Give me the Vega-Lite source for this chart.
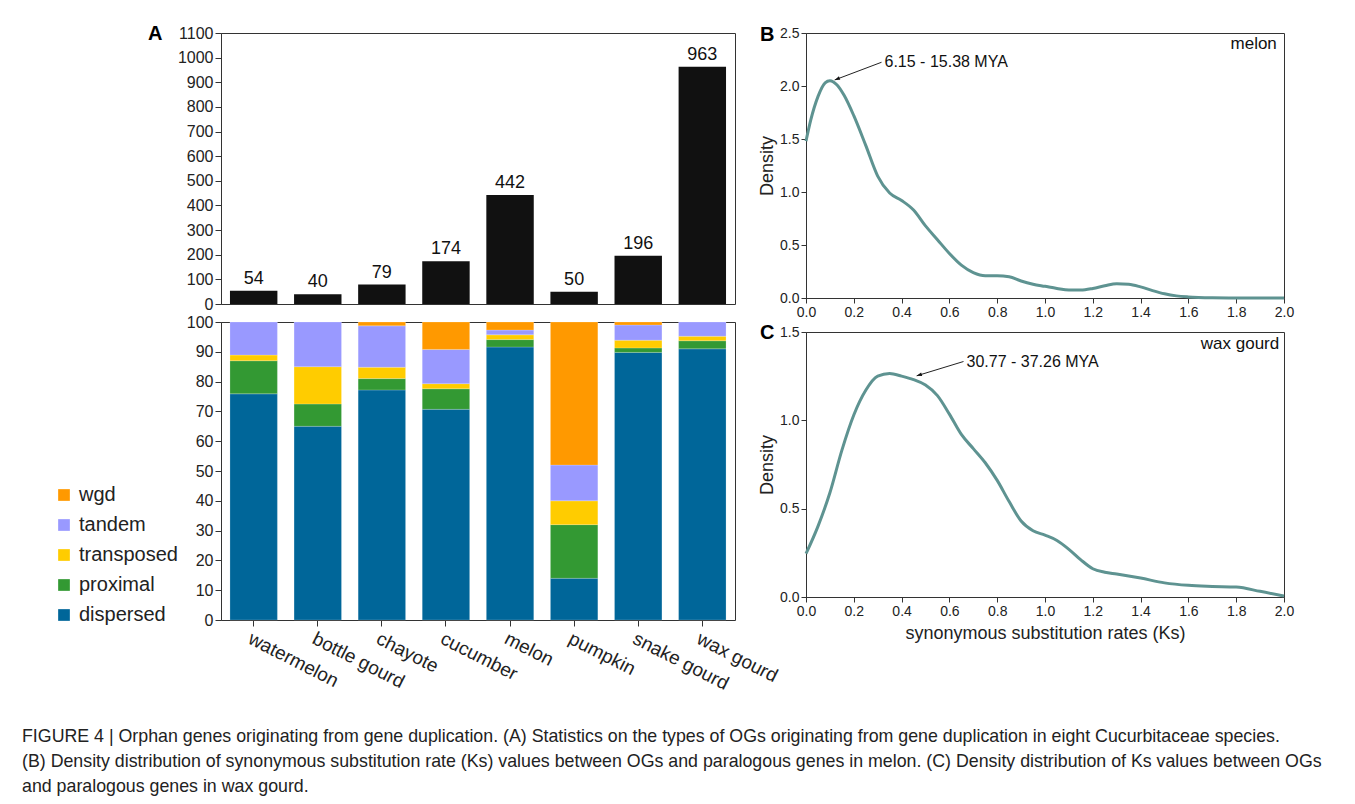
{
  "$schema": "https://vega.github.io/schema/vega-lite/v6.json",
  "padding": {"left": 22, "top": 23, "right": 5, "bottom": 5},
  "background": "white",
  "config": {
    "font": "Liberation Sans",
    "view": {"stroke": "#333", "strokeWidth": 1},
    "axis": {"grid": false, "labelFont": "Liberation Sans", "titleFont": "Liberation Sans", "labelColor": "#222", "tickColor": "#333", "domainColor": "#333", "titleFontWeight": "normal", "titleColor": "#222", "labelFlush": false, "labelOverlap": false},
    "legend": {"labelFont": "Liberation Sans", "labelColor": "#222"}
  },
  "datasets": {
    "totals": [
      {"species": "watermelon", "n": 54},
      {"species": "bottle gourd", "n": 40},
      {"species": "chayote", "n": 79},
      {"species": "cucumber", "n": 174},
      {"species": "melon", "n": 442},
      {"species": "pumpkin", "n": 50},
      {"species": "snake gourd", "n": 196},
      {"species": "wax gourd", "n": 963}
    ],
    "types": [
      {"species": "watermelon", "type": "dispersed", "ord": 1, "pct": 75.9},
      {"species": "watermelon", "type": "proximal", "ord": 2, "pct": 11.1},
      {"species": "watermelon", "type": "transposed", "ord": 3, "pct": 1.9},
      {"species": "watermelon", "type": "tandem", "ord": 4, "pct": 11.1},
      {"species": "bottle gourd", "type": "dispersed", "ord": 1, "pct": 65.0},
      {"species": "bottle gourd", "type": "proximal", "ord": 2, "pct": 7.5},
      {"species": "bottle gourd", "type": "transposed", "ord": 3, "pct": 12.5},
      {"species": "bottle gourd", "type": "tandem", "ord": 4, "pct": 15.0},
      {"species": "chayote", "type": "dispersed", "ord": 1, "pct": 77.2},
      {"species": "chayote", "type": "proximal", "ord": 2, "pct": 3.8},
      {"species": "chayote", "type": "transposed", "ord": 3, "pct": 3.8},
      {"species": "chayote", "type": "tandem", "ord": 4, "pct": 13.9},
      {"species": "chayote", "type": "wgd", "ord": 5, "pct": 1.3},
      {"species": "cucumber", "type": "dispersed", "ord": 1, "pct": 70.7},
      {"species": "cucumber", "type": "proximal", "ord": 2, "pct": 6.9},
      {"species": "cucumber", "type": "transposed", "ord": 3, "pct": 1.7},
      {"species": "cucumber", "type": "tandem", "ord": 4, "pct": 11.5},
      {"species": "cucumber", "type": "wgd", "ord": 5, "pct": 9.2},
      {"species": "melon", "type": "dispersed", "ord": 1, "pct": 91.6},
      {"species": "melon", "type": "proximal", "ord": 2, "pct": 2.5},
      {"species": "melon", "type": "transposed", "ord": 3, "pct": 1.6},
      {"species": "melon", "type": "tandem", "ord": 4, "pct": 1.6},
      {"species": "melon", "type": "wgd", "ord": 5, "pct": 2.7},
      {"species": "pumpkin", "type": "dispersed", "ord": 1, "pct": 14.0},
      {"species": "pumpkin", "type": "proximal", "ord": 2, "pct": 18.0},
      {"species": "pumpkin", "type": "transposed", "ord": 3, "pct": 8.0},
      {"species": "pumpkin", "type": "tandem", "ord": 4, "pct": 12.0},
      {"species": "pumpkin", "type": "wgd", "ord": 5, "pct": 48.0},
      {"species": "snake gourd", "type": "dispersed", "ord": 1, "pct": 89.8},
      {"species": "snake gourd", "type": "proximal", "ord": 2, "pct": 1.5},
      {"species": "snake gourd", "type": "transposed", "ord": 3, "pct": 2.6},
      {"species": "snake gourd", "type": "tandem", "ord": 4, "pct": 5.1},
      {"species": "snake gourd", "type": "wgd", "ord": 5, "pct": 1.0},
      {"species": "wax gourd", "type": "dispersed", "ord": 1, "pct": 91.0},
      {"species": "wax gourd", "type": "proximal", "ord": 2, "pct": 2.7},
      {"species": "wax gourd", "type": "transposed", "ord": 3, "pct": 1.5},
      {"species": "wax gourd", "type": "tandem", "ord": 4, "pct": 4.8}
    ],
    "melon": [
      {"ks": 0.00, "density": 1.48}, {"ks": 0.02, "density": 1.68}, {"ks": 0.05, "density": 1.90},
      {"ks": 0.08, "density": 2.03}, {"ks": 0.10, "density": 2.05}, {"ks": 0.13, "density": 2.01},
      {"ks": 0.16, "density": 1.91}, {"ks": 0.20, "density": 1.72}, {"ks": 0.25, "density": 1.44},
      {"ks": 0.30, "density": 1.15}, {"ks": 0.35, "density": 0.99}, {"ks": 0.40, "density": 0.92},
      {"ks": 0.45, "density": 0.83}, {"ks": 0.50, "density": 0.68}, {"ks": 0.55, "density": 0.55},
      {"ks": 0.60, "density": 0.42}, {"ks": 0.65, "density": 0.31}, {"ks": 0.70, "density": 0.24},
      {"ks": 0.75, "density": 0.21}, {"ks": 0.80, "density": 0.21}, {"ks": 0.85, "density": 0.20},
      {"ks": 0.90, "density": 0.16}, {"ks": 0.95, "density": 0.13}, {"ks": 1.00, "density": 0.11},
      {"ks": 1.05, "density": 0.09}, {"ks": 1.10, "density": 0.075}, {"ks": 1.15, "density": 0.075},
      {"ks": 1.20, "density": 0.09}, {"ks": 1.25, "density": 0.115}, {"ks": 1.30, "density": 0.135},
      {"ks": 1.35, "density": 0.13}, {"ks": 1.40, "density": 0.105}, {"ks": 1.45, "density": 0.07},
      {"ks": 1.50, "density": 0.04}, {"ks": 1.55, "density": 0.02}, {"ks": 1.60, "density": 0.01},
      {"ks": 1.70, "density": 0.002}, {"ks": 1.80, "density": 0.0}, {"ks": 2.00, "density": 0.0}
    ],
    "wax": [
      {"ks": 0.00, "density": 0.245}, {"ks": 0.05, "density": 0.40}, {"ks": 0.10, "density": 0.59},
      {"ks": 0.15, "density": 0.83}, {"ks": 0.20, "density": 1.03}, {"ks": 0.25, "density": 1.17},
      {"ks": 0.30, "density": 1.25}, {"ks": 0.35, "density": 1.265}, {"ks": 0.40, "density": 1.25},
      {"ks": 0.45, "density": 1.23}, {"ks": 0.50, "density": 1.20}, {"ks": 0.55, "density": 1.14},
      {"ks": 0.60, "density": 1.035}, {"ks": 0.65, "density": 0.92}, {"ks": 0.70, "density": 0.84},
      {"ks": 0.75, "density": 0.76}, {"ks": 0.80, "density": 0.66}, {"ks": 0.85, "density": 0.54},
      {"ks": 0.90, "density": 0.43}, {"ks": 0.95, "density": 0.375}, {"ks": 1.00, "density": 0.35},
      {"ks": 1.05, "density": 0.32}, {"ks": 1.10, "density": 0.27}, {"ks": 1.15, "density": 0.21},
      {"ks": 1.20, "density": 0.16}, {"ks": 1.25, "density": 0.14}, {"ks": 1.30, "density": 0.13},
      {"ks": 1.40, "density": 0.107}, {"ks": 1.50, "density": 0.08}, {"ks": 1.60, "density": 0.066},
      {"ks": 1.70, "density": 0.06}, {"ks": 1.80, "density": 0.056}, {"ks": 1.90, "density": 0.032},
      {"ks": 2.00, "density": 0.005}
    ],
    "annB": [{"x": 0.316, "y": 2.224, "hx": 0.12, "hy": 2.057, "label": "6.15 - 15.38 MYA"}],
    "annC": [{"x": 0.659, "y": 1.333, "hx": 0.463, "hy": 1.252, "label": "30.77 - 37.26 MYA"}]
  },
  "title": {
    "text": [
      "FIGURE 4 | Orphan genes originating from gene duplication. (A) Statistics on the types of OGs originating from gene duplication in eight Cucurbitaceae species.",
      "(B) Density distribution of synonymous substitution rate (Ks) values between OGs and paralogous genes in melon. (C) Density distribution of Ks values between OGs",
      "and paralogous genes in wax gourd."
    ],
    "orient": "bottom", "anchor": "start", "frame": "bounds",
    "font": "Liberation Sans", "fontSize": 17.8, "fontWeight": "normal", "color": "#222",
    "lineHeight": 25, "baseline": "top", "offset": 34, "dx": -32
  },
  "spacing": -23,
  "hconcat": [
    {
      "bounds": "flush",
      "spacing": 18,
      "vconcat": [
        {
          "width": 514, "height": 271,
          "data": {"name": "totals"},
          "title": {"text": "A", "anchor": "start", "frame": "group", "dx": -73, "dy": 29, "offset": 0, "baseline": "middle", "fontSize": 20, "fontWeight": "bold", "color": "#000"},
          "encoding": {
            "x": {"field": "species", "type": "nominal", "sort": ["watermelon", "bottle gourd", "chayote", "cucumber", "melon", "pumpkin", "snake gourd", "wax gourd"], "axis": null, "scale": {"paddingInner": 0.26, "paddingOuter": 0.14}},
            "y": {"field": "n", "type": "quantitative", "scale": {"domain": [0, 1100], "nice": false},
              "axis": {"title": null, "format": "d", "values": [0, 100, 200, 300, 400, 500, 600, 700, 800, 900, 1000, 1100], "labelFontSize": 16, "tickSize": 6, "labelPadding": 2}}
          },
          "layer": [
            {"mark": {"type": "bar", "color": "#111"}},
            {"mark": {"type": "text", "baseline": "bottom", "dy": -3, "fontSize": 18, "color": "#111"}, "encoding": {"text": {"field": "n", "type": "quantitative"}}}
          ]
        },
        {
          "width": 514, "height": 298,
          "data": {"name": "types"},
          "mark": {"type": "bar", "stroke": "#ffffff", "strokeWidth": 0.4, "strokeOpacity": 0.5},
          "encoding": {
            "x": {"field": "species", "type": "nominal", "sort": ["watermelon", "bottle gourd", "chayote", "cucumber", "melon", "pumpkin", "snake gourd", "wax gourd"], "scale": {"paddingInner": 0.26, "paddingOuter": 0.14},
              "axis": {"title": null, "labelAngle": 27, "labelFontSize": 19, "tickSize": 6, "labelPadding": 3, "domain": false}},
            "y": {"field": "pct", "type": "quantitative", "stack": "zero", "scale": {"domain": [0, 100], "nice": false},
              "axis": {"title": null, "values": [0, 10, 20, 30, 40, 50, 60, 70, 80, 90, 100], "labelFontSize": 16, "tickSize": 6, "labelPadding": 2}},
            "color": {"field": "type", "type": "nominal",
              "scale": {"domain": ["wgd", "tandem", "transposed", "proximal", "dispersed"], "range": ["#FF9900", "#9999FF", "#FFCC00", "#339933", "#006699"]},
              "legend": {"orient": "none", "legendX": -167, "legendY": 452, "title": null, "padding": 0, "symbolType": "square", "symbolSize": 137, "symbolStrokeWidth": 0, "labelFontSize": 20, "rowPadding": 10, "labelOffset": 5}},
            "order": {"field": "ord", "type": "quantitative"}
          }
        }
      ]
    },
    {
      "bounds": "flush",
      "spacing": 34,
      "vconcat": [
        {
          "width": 478, "height": 265,
          "title": {"text": "B", "anchor": "start", "frame": "group", "dx": -46, "dy": 29, "offset": 0, "baseline": "middle", "fontSize": 20, "fontWeight": "bold", "color": "#000"},
          "layer": [
            {
              "data": {"name": "melon"},
              "mark": {"type": "line", "color": "#5E9391", "strokeWidth": 3, "interpolate": "monotone"},
              "encoding": {
                "x": {"field": "ks", "type": "quantitative", "scale": {"domain": [0, 2], "nice": false},
                  "axis": {"title": null, "values": [0, 0.2, 0.4, 0.6, 0.8, 1.0, 1.2, 1.4, 1.6, 1.8, 2.0], "format": ".1f", "labelFontSize": 14, "tickSize": 5, "labelPadding": 2}},
                "y": {"field": "density", "type": "quantitative", "scale": {"domain": [0, 2.5], "nice": false},
                  "axis": {"title": "Density", "titleFontSize": 18, "titlePadding": 3, "values": [0, 0.5, 1.0, 1.5, 2.0, 2.5], "format": ".1f", "labelFontSize": 14, "tickSize": 5, "labelPadding": 2}}
              }
            },
            {
              "data": {"name": "annB"},
              "mark": {"type": "rule", "color": "#222", "strokeWidth": 1},
              "encoding": {"x": {"field": "x", "type": "quantitative"}, "y": {"field": "y", "type": "quantitative"}, "x2": {"field": "hx"}, "y2": {"field": "hy"}}
            },
            {
              "data": {"name": "annB"},
              "mark": {"type": "point", "shape": "M0,0L0.35,1L-0.35,1Z", "filled": true, "color": "#111", "opacity": 1, "size": 110, "angle": 249},
              "encoding": {"x": {"field": "hx", "type": "quantitative"}, "y": {"field": "hy", "type": "quantitative"}}
            },
            {
              "data": {"name": "annB"},
              "mark": {"type": "text", "align": "left", "baseline": "middle", "fontSize": 16, "dx": 3, "color": "#111"},
              "encoding": {"x": {"field": "x", "type": "quantitative"}, "y": {"field": "y", "type": "quantitative"}, "text": {"field": "label"}}
            },
            {
              "data": {"values": [{"panel": "melon"}]},
              "mark": {"type": "text", "align": "right", "baseline": "middle", "fontSize": 17, "color": "#111"},
              "encoding": {"x": {"datum": 1.97}, "y": {"datum": 2.4}, "text": {"field": "panel"}}
            }
          ]
        },
        {
          "width": 478, "height": 265,
          "title": {"text": "C", "anchor": "start", "frame": "group", "dx": -46, "dy": 28, "offset": 0, "baseline": "middle", "fontSize": 20, "fontWeight": "bold", "color": "#000"},
          "layer": [
            {
              "data": {"name": "wax"},
              "mark": {"type": "line", "color": "#5E9391", "strokeWidth": 3, "interpolate": "monotone"},
              "encoding": {
                "x": {"field": "ks", "type": "quantitative", "scale": {"domain": [0, 2], "nice": false},
                  "axis": {"title": "synonymous substitution rates (Ks)", "titleFontSize": 18, "titlePadding": 6, "values": [0, 0.2, 0.4, 0.6, 0.8, 1.0, 1.2, 1.4, 1.6, 1.8, 2.0], "format": ".1f", "labelFontSize": 14, "tickSize": 5, "labelPadding": 2}},
                "y": {"field": "density", "type": "quantitative", "scale": {"domain": [0, 1.5], "nice": false},
                  "axis": {"title": "Density", "titleFontSize": 18, "titlePadding": 3, "values": [0, 0.5, 1.0, 1.5], "format": ".1f", "labelFontSize": 14, "tickSize": 5, "labelPadding": 2}}
              }
            },
            {
              "data": {"name": "annC"},
              "mark": {"type": "rule", "color": "#222", "strokeWidth": 1},
              "encoding": {"x": {"field": "x", "type": "quantitative"}, "y": {"field": "y", "type": "quantitative"}, "x2": {"field": "hx"}, "y2": {"field": "hy"}}
            },
            {
              "data": {"name": "annC"},
              "mark": {"type": "point", "shape": "M0,0L0.35,1L-0.35,1Z", "filled": true, "color": "#111", "opacity": 1, "size": 110, "angle": 253},
              "encoding": {"x": {"field": "hx", "type": "quantitative"}, "y": {"field": "hy", "type": "quantitative"}}
            },
            {
              "data": {"name": "annC"},
              "mark": {"type": "text", "align": "left", "baseline": "middle", "fontSize": 16, "dx": 3, "color": "#111"},
              "encoding": {"x": {"field": "x", "type": "quantitative"}, "y": {"field": "y", "type": "quantitative"}, "text": {"field": "label"}}
            },
            {
              "data": {"values": [{"panel": "wax gourd"}]},
              "mark": {"type": "text", "align": "right", "baseline": "middle", "fontSize": 17, "color": "#111"},
              "encoding": {"x": {"datum": 1.98}, "y": {"datum": 1.43}, "text": {"field": "panel"}}
            }
          ]
        }
      ]
    }
  ]
}
